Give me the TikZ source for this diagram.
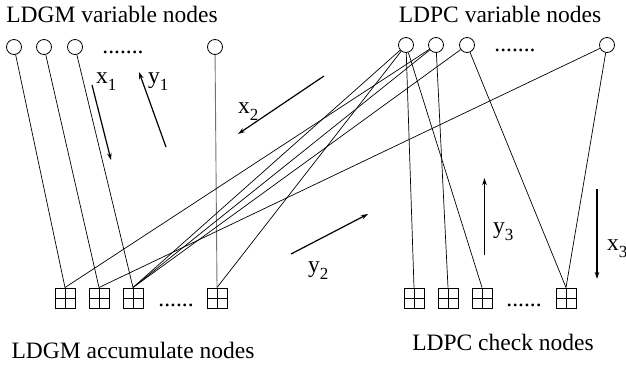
\documentclass[tikz,border=0pt]{standalone}
\usepackage{fontspec}
\setmainfont{Liberation Serif}
\usetikzlibrary{arrows.meta}
\newcommand\subx[2]{#1\raisebox{-0.3em}{\fontsize{17}{17}\selectfont #2}}
\begin{document}
\begin{tikzpicture}[x=1pt,y=-1pt,
  var/.style={circle,draw,line width=0.8pt,minimum size=15pt,inner sep=0pt},
  chk/.style={draw,line width=1pt,minimum size=20pt,inner sep=0pt,
    path picture={\draw[line width=1pt] (path picture bounding box.north) -- (path picture bounding box.south)
      (path picture bounding box.west) -- (path picture bounding box.east);}},
  edge/.style={line width=0.7pt},
  grayedge/.style={line width=0.9pt,draw=black!55},
  flow/.style={line width=1.2pt,-{Stealth[length=7pt,width=4.5pt]}},
  lbl/.style={font=\fontsize{23.5}{28}\selectfont,inner sep=0pt},
]
\useasboundingbox (0,0) rectangle (626,365);
% titles
\node[lbl,anchor=base] (t1) at (112,22) {LDGM variable nodes};
\node[lbl,anchor=base] (t2) at (500,22) {LDPC variable nodes};
\node[lbl,anchor=base] (t3) at (133,358) {LDGM accumulate nodes};
\node[lbl,anchor=base] (t4) at (503,350) {LDPC check nodes};
% variable nodes
\node[var] (l1) at (14,47) {};
\node[var] (l2) at (44,47) {};
\node[var] (l3) at (75,47) {};
\node[var] (l4) at (215,47) {};
\node[var] (r1) at (406,45) {};
\node[var] (r2) at (436,45) {};
\node[var] (r3) at (467,45) {};
\node[var] (r4) at (607,45) {};
% check nodes
\node[chk] (lb1) at (65,298) {};
\node[chk] (lb2) at (99,298) {};
\node[chk] (lb3) at (133,298) {};
\node[chk] (lb4) at (217,298) {};
\node[chk] (rb1) at (414,298) {};
\node[chk] (rb2) at (448,298) {};
\node[chk] (rb3) at (482,298) {};
\node[chk] (rb4) at (566,298) {};
% dots
\node[lbl,anchor=base] (dt1) at (123,53) {.......};
\node[lbl,anchor=base] (dt2) at (515,51) {.......};
\node[lbl,anchor=base] (db1) at (176,306) {......};
\node[lbl,anchor=base] (db2) at (524,306) {......};
% edges
\draw[edge] (l1) -- (lb1.north);
\draw[edge] (l2) -- (lb2.north);
\draw[edge] (l3) -- (lb3.north);
\draw[grayedge] (l4) -- (lb4.north);
\draw[edge] (r1) -- (lb4.north);
\draw[edge] (r1) -- (lb3.north);
\draw[edge] (r1) -- (rb1.north);
\draw[edge] (r1) -- (rb3.north);
\draw[edge] (r2) -- (lb1.north);
\draw[edge] (r2) -- (lb3.north);
\draw[edge] (r2) -- (rb2.north);
\draw[edge] (r3) -- (lb3.north);
\draw[edge] (r3) -- (rb4.north);
\draw[edge] (r4) -- (lb2.north);
\draw[edge] (r4) -- (rb4.north);
% message arrows
\coordinate (x1a) at (92,85);  \coordinate (x1b) at (111,160);
\coordinate (y1a) at (166,147); \coordinate (y1b) at (139,72);
\coordinate (x2a) at (324,76); \coordinate (x2b) at (238,134);
\coordinate (y2a) at (291,254); \coordinate (y2b) at (368,214);
\coordinate (y3a) at (484.5,255); \coordinate (y3b) at (484.5,178);
\coordinate (x3a) at (597,189); \coordinate (x3b) at (597,279);
\draw[flow] (x1a) -- (x1b);
\draw[flow] (y1a) -- (y1b);
\draw[flow] (x2a) -- (x2b);
\draw[flow] (y2a) -- (y2b);
\draw[flow] (y3a) -- (y3b);
\draw[flow] (x3a) -- (x3b);
% labels
\node[lbl,anchor=base west] (lx1) at (96,83) {\subx{x}{1}};
\node[lbl,anchor=base west] (ly1) at (148,83) {\subx{y}{1}};
\node[lbl,anchor=base west] (lx2) at (238,113) {\subx{x}{2}};
\node[lbl,anchor=base west] (ly2) at (308,272) {\subx{y}{2}};
\node[lbl,anchor=base west] (ly3) at (493,233) {\subx{y}{3}};
\node[lbl,anchor=base west] (lx3) at (607,250) {\subx{x}{3}};
\end{tikzpicture}
\end{document}
